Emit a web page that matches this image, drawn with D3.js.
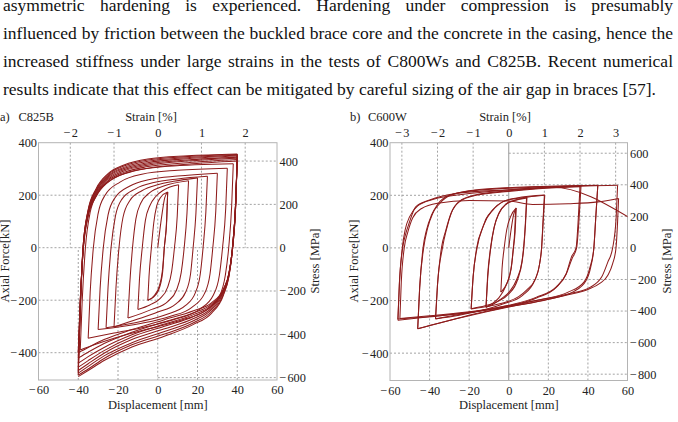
<!DOCTYPE html>
<html><head><meta charset="utf-8">
<script src="https://cdn.jsdelivr.net/npm/d3@7"></script>
<style>
html,body{margin:0;padding:0;background:#fff;overflow:hidden}
svg{display:block}
</style></head><body>
<svg id="chart" width="678" height="422"></svg>
<script>
// ---------------- DATA ----------------
const paragraphLines = [
  "asymmetric hardening is experienced. Hardening under compression is presumably",
  "influenced by friction between the buckled brace core and the concrete in the casing, hence the",
  "increased stiffness under large strains in the tests of C800Ws and C825B. Recent numerical",
  "results indicate that this effect can be mitigated by careful sizing of the air gap in braces [57]."
];

const dispTicks = [-60, -40, -20, 0, 20, 40, 60];
const forceTicks = [-400, -200, 0, 200, 400];
const c825bStrainTicks = [-2, -1, 0, 1, 2];
const c825bStressTicks = [-600, -400, -200, 0, 200, 400];
const c600wStrainTicks = [-3, -2, -1, 0, 1, 2, 3];
const c600wStressTicks = [-800, -600, -400, -200, 0, 200, 400, 600];

// [displacement mm, axial force kN]
const c825bCycles = [
  [[0,0],[2,120],[3.5,190],[5,212],[4.5,100],[3.3,0],[2.5,-90],[0.5,-160],[-2.5,-190],[-5,-200]],
  [[-5,-200],[-4.4,-110],[-3.2,0],[-2,95],[-0.5,160],[1.5,192],[5,212],[4.5,110],[3.3,0],[2.3,-90],[0.8,-145],[-1.5,-180],[-5,-200]],
  [[-10,-235],[-9.2,-120],[-7.8,0],[-6.2,105],[-4,160],[-1,195],[3,220],[10.5,240],[9.8,120],[8.4,0],[7,-90],[5,-150],[1,-195],[-4,-218],[-10,-235]],
  [[-15,-268],[-14.1,-140],[-12.7,0],[-11,110],[-8.5,170],[-4,210],[3,235],[15.5,255],[14.7,130],[13.3,0],[11.8,-95],[9.5,-160],[5,-205],[-3,-235],[-15,-268]],
  [[-22,-302],[-21,-150],[-19.5,0],[-17.5,115],[-14,180],[-8,217],[0,240],[8,253],[20,266],[19.2,130],[17.8,0],[16.5,-100],[14,-170],[9,-215],[0,-245],[-10,-272],[-22,-302]],
  [[-26,-305],[-25,-150],[-23.5,0],[-21.3,120],[-18,185],[-11,225],[-2,248],[10,262],[25,272],[24.2,135],[22.8,0],[21.4,-100],[19,-170],[14,-220],[4,-255],[-8,-280],[-26,-305]],
  [[-30,-312],[-29,-155],[-27.4,0],[-25,125],[-21.5,190],[-14,235],[-4,260],[10,273],[30,284],[29.2,140],[27.7,0],[26.3,-100],[23.5,-175],[17,-228],[6,-262],[-8,-288],[-30,-312]],
  [[-35,-345],[-34,-170],[-32.4,0],[-30,130],[-26.5,200],[-19,250],[-8,280],[10,295],[35,303],[34.2,150],[32.6,0],[31,-105],[28,-180],[21,-235],[9,-272],[-8,-305],[-22,-325],[-35,-345]],
  [[-39,-390],[-38,-200],[-36.4,0],[-34,135],[-30,210],[-23,260],[-12,292],[5,310],[38,320],[37.2,160],[35.7,0],[34,-105],[31,-185],[24,-240],[12,-275],[-5,-310],[-22,-345],[-32,-370],[-39,-390]],
  [[-40,-400],[-39,-200],[-37.4,0],[-35,120],[-31,195],[-25,250],[-17,282],[-5,303],[15,318],[40,330],[39.2,165],[37.6,0],[35.9,-95],[33.2,-155],[27,-210],[18,-240],[3,-275],[-13,-312],[-27,-350],[-35,-380],[-40,-400]],
  [[-40,-400],[-39,-200],[-37.4,0],[-35,123],[-31,200],[-25,255],[-17,287],[-5,309],[15,324],[40,336],[39.2,168],[37.6,0],[35.9,-97],[33.2,-158],[27,-215],[18,-248],[3,-283],[-13,-322],[-27,-365],[-35,-398],[-40,-420]],
  [[-40,-420],[-39,-210],[-37.5,0],[-35,127],[-31,204],[-25,260],[-17,292],[-5,314],[15,330],[40,341],[39.2,170],[37.6,0],[35.8,-98],[33,-160],[27,-220],[18,-255],[3,-292],[-13,-332],[-27,-380],[-35,-415],[-40,-440]],
  [[-40,-440],[-39,-220],[-37.5,0],[-35,131],[-31,208],[-25,265],[-17,297],[-5,319],[15,334],[40,345],[39.2,172],[37.6,0],[35.8,-100],[33,-163],[27,-224],[18,-262],[3,-300],[-13,-340],[-27,-392],[-35,-430],[-40,-455]],
  [[-40,-455],[-39,-228],[-37.5,0],[-35,135],[-31,213],[-25,270],[-17,302],[-5,324],[15,339],[40,349],[39.2,175],[37.6,0],[35.8,-102],[33,-167],[27,-230],[18,-270],[3,-310],[-13,-350],[-27,-402],[-35,-442],[-40,-468]],
  [[-40,-468],[-39,-234],[-37.6,0],[-35,139],[-31,217],[-25,274],[-17,306],[-5,329],[15,343],[40,352],[39.3,176],[37.7,0],[35.8,-105],[33,-172],[27,-236],[18,-278],[3,-320],[-13,-362],[-27,-412],[-35,-452],[-40,-478]],
  [[-40,-478],[-39,-240],[-37.6,0],[-35,142],[-31,221],[-25,278],[-17,311],[-5,334],[15,347],[40,355],[39.3,178],[37.7,0],[35.8,-108],[33,-178],[27,-243],[18,-286],[3,-330],[-13,-370],[-27,-422],[-35,-462],[-40,-485]],
  [[-40,-485],[-39,-243],[-37.6,0],[-35,145],[-31,225],[-25,282],[-17,315],[-5,338],[15,350],[40,357],[39.3,179],[37.7,0],[35.8,-110],[33,-182],[27,-250],[18,-292],[3,-338],[-13,-378],[-27,-430],[-35,-468],[-40,-491]]
];

const c600wCycles = [
  [[0,0],[1.2,70],[2.4,125],[3.5,148],[3,60],[2.3,0],[1.5,-60],[0,-115],[-2,-150],[-4,-168],[-3.4,-80],[-2.3,0],[-1,70],[1,120],[3.8,152]],
  [[3.8,152],[3.2,60],[2.4,0],[1.2,-80],[-1.5,-145],[-5,-190],[-8.5,-212],[-11.5,-225],[-10.7,-110],[-9.2,0],[-7.5,75],[-5,130],[-1.5,165],[3,180],[9,190],[8.4,95],[7.5,0],[6.6,-55],[4,-120],[0.5,-165],[-3.5,-192],[-7.5,-212],[-11.5,-226],[-10.6,-110],[-9.1,0],[-7.3,80],[-4.8,135],[-1.2,168],[3.2,182],[9.2,192]],
  [[9.2,192],[8.5,95],[7.6,0],[6.8,-50],[4.5,-120],[0,-175],[-6,-205],[-12,-220],[-19,-231],[-18,-110],[-16.2,0],[-13,80],[-11.5,110],[-8,144],[-3,175],[3.8,188],[10,194],[18,200],[17.3,100],[16.6,0],[15.6,-60],[13.5,-118],[9,-160],[5,-185],[-1.3,-206],[-9,-220],[-19,-232],[-18,-110],[-16,0],[-12.8,85],[-8,146],[-3,176],[4,190],[18.2,201]],
  [[18.2,201],[17.4,100],[16.6,0],[15.6,-60],[13,-125],[7,-180],[-3,-213],[-15,-240],[-25,-256],[-37,-270],[-36,-140],[-34,0],[-31.8,67],[-29.2,131],[-25,175],[-16.5,200],[0,215],[15,225],[36,233],[35.2,120],[34,0],[31.7,-34],[29,-98],[24,-148],[14,-187],[0,-218],[-18,-244],[-37,-269],[-36,-140],[-33.5,0],[-31.5,70],[-29,133],[-25,177],[-16.5,202],[0,217],[15,227],[36.5,235]],
  [[36.5,235],[35.6,120],[34.3,0],[32,-40],[29,-100],[24,-150],[14,-190],[0,-222],[-18,-252],[-32,-280],[-46,-307],[-45,-150],[-43.3,0],[-41.5,70],[-39,125],[-36,165],[-30,200],[-15,220],[10,230],[45,237],[44,120],[43,0],[41.5,-70],[39,-125],[33,-165],[20,-195],[0,-225],[-20,-258],[-35,-285],[-46,-307],[-45,-150],[-43,0],[-41,75],[-38.5,130],[-35,168],[-29,202],[-15,222],[10,232],[45,238]],
  [[45,238],[44,120],[43,0],[41,-75],[38,-130],[30,-168],[15,-198],[0,-222],[-20,-245],[-40,-262],[-56,-275],[-55.3,-140],[-53.6,0],[-52,55],[-50.4,93],[-47,156],[-40,182],[-26.7,207],[0,221],[24,232],[55,238],[54.3,120],[52.5,0],[50,-55],[47,-110],[41,-150],[30,-175],[10,-205],[-15,-238],[-40,-258],[-55,-268]],
  [[-55,-268],[-54.3,-130],[-52.8,0],[-51,60],[-48.5,115],[-44,150],[-36,170],[-20,180],[0,178],[12,165],[30,168],[45,175],[55.5,188],[55,100],[54.2,0],[52.5,-60],[50,-105],[46,-135],[40,-158],[30,-178],[10,-210],[-15,-240],[-35,-258],[-56,-270],[-55.2,-130],[-53.8,0],[-52.3,70],[-50,120],[-46,160],[-38,185],[-22,205],[0,220],[22,231],[61,115]]
];

// ---------------- DRAW ----------------
const svg = d3.select("#chart");
const SERIF = "'Liberation Serif','Times New Roman',Times,serif";
const RED = "#8e1c1c";
const GRID = "#8c8c8c";

// paragraph text (justified lines)
const tg = svg.append("g").style("font-family", SERIF).style("font-size", "17.5px").attr("fill", "#111");
paragraphLines.forEach((line, i) => {
  const words = line.split(" ");
  const y = 10.5 + i * 28;
  const left = 3, right = 673;
  const widths = words.map(w => {
    const t = tg.append("text").text(w);
    const wd = t.node().getComputedTextLength();
    t.remove();
    return wd;
  });
  const total = d3.sum(widths);
  const justify = i < paragraphLines.length - 1;
  let gap = justify ? (right - left - total) / (words.length - 1) : 17.5 * 0.25;
  if (gap < 2) gap = 2;
  let x = left;
  words.forEach((w, j) => {
    tg.append("text").attr("x", x).attr("y", y).text(w);
    x += widths[j] + gap;
  });
});

function minusFmt(v) {
  return v < 0 ? "\u2212\u200A" + Math.abs(v) : String(v);
}

function splitBranches(points) {
  const branches = [];
  let cur = [points[0]];
  let dir = 0;
  for (let i = 1; i < points.length; i++) {
    const dx = points[i][0] - points[i - 1][0];
    const s = Math.sign(dx);
    if (dir !== 0 && s !== 0 && s !== dir) {
      branches.push(cur);
      cur = [points[i - 1]];
    }
    if (s !== 0) dir = s;
    cur.push(points[i]);
  }
  branches.push(cur);
  return branches.map(b => b[0][0] > b[b.length - 1][0] ? b.slice().reverse() : b);
}

function drawPanel(p) {
  const x = d3.scaleLinear().domain([-60, 60]).range([p.x0, p.x1]);
  const y = d3.scaleLinear().domain([-504, 400]).range([p.y1, p.y0]);
  const xs = d3.scaleLinear().domain([-60 / p.gauge * 100, 60 / p.gauge * 100]).range([p.x0, p.x1]);
  const ys = d3.scaleLinear().domain([-504 * 1000 / p.area, 400 * 1000 / p.area]).range([p.y1, p.y0]);

  const g = svg.append("g");
  const grid = g.append("g").attr("stroke", GRID).attr("stroke-width", 0.8)
    .attr("stroke-dasharray", "2,2").attr("fill", "none");

  forceTicks.filter(v => v !== 0 && v !== 400).forEach(v => {
    grid.append("line").attr("x1", p.x0).attr("x2", x(0)).attr("y1", y(v)).attr("y2", y(v));
  });
  p.stressTicks.filter(v => v !== 0).forEach(v => {
    grid.append("line").attr("x1", x(0)).attr("x2", p.x1).attr("y1", ys(v)).attr("y2", ys(v));
  });
  dispTicks.filter(v => Math.abs(v) !== 60 && v !== 0).forEach(v => {
    grid.append("line").attr("x1", x(v)).attr("x2", x(v)).attr("y1", p.y1).attr("y2", y(0));
  });
  p.strainTicks.filter(v => v !== 0).forEach(v => {
    grid.append("line").attr("x1", xs(v)).attr("x2", xs(v)).attr("y1", p.y0).attr("y2", y(0));
  });
  grid.append("line").attr("x1", p.x0).attr("x2", p.x1).attr("y1", y(0)).attr("y2", y(0));
  const zx = g.append("line").attr("x1", x(0)).attr("x2", x(0)).attr("y1", p.y0).attr("y2", p.y1)
    .attr("stroke", p.solidZero ? "#9a9a9a" : GRID).attr("stroke-width", p.solidZero ? 1 : 0.8);
  if (!p.solidZero) zx.attr("stroke-dasharray", "2,2");

  g.append("rect").attr("x", p.x0).attr("y", p.y0).attr("width", p.x1 - p.x0).attr("height", p.y1 - p.y0)
    .attr("fill", "none").attr("stroke", "#b4b4b4").attr("stroke-width", 1);

  const clipId = "clip-" + p.id;
  svg.append("clipPath").attr("id", clipId).append("rect")
    .attr("x", p.x0).attr("y", p.y0).attr("width", p.x1 - p.x0).attr("height", p.y1 - p.y0);
  const line = d3.line().x(d => x(d[0])).y(d => y(d[1])).curve(d3.curveMonotoneX);
  const dg = g.append("g").attr("clip-path", `url(#${clipId})`).attr("fill", "none")
    .attr("stroke", RED).attr("stroke-width", 1.05).attr("stroke-linejoin", "round");
  p.cycles.forEach(c => {
    splitBranches(c).forEach(b => dg.append("path").attr("d", line(b)));
  });

  const styleAxis = a => {
    a.select(".domain").remove();
    a.attr("font-family", null).attr("font-size", null);
    a.selectAll("text").style("font-family", SERIF).style("font-size", "12.3px").attr("fill", "#222");
  };
  g.append("g").attr("transform", `translate(0,${p.y1})`)
    .call(d3.axisBottom(x).tickValues(dispTicks).tickSize(0).tickPadding(5.5).tickFormat(minusFmt)).call(styleAxis);
  g.append("g").attr("transform", `translate(${p.x0},0)`)
    .call(d3.axisLeft(y).tickValues(forceTicks).tickSize(0).tickPadding(1.5).tickFormat(minusFmt)).call(styleAxis);
  g.append("g").attr("transform", `translate(0,${p.y0})`)
    .call(d3.axisTop(xs).tickValues(p.strainTicks).tickSize(0).tickPadding(5.5).tickFormat(minusFmt)).call(styleAxis);
  g.append("g").attr("transform", `translate(${p.x1},0)`)
    .call(d3.axisRight(ys).tickValues(p.stressTicks).tickSize(0).tickPadding(2.5).tickFormat(minusFmt)).call(styleAxis);

  const t = g.append("g").style("font-family", SERIF).style("font-size", "12.5px").attr("fill", "#222");
  t.append("text").attr("x", p.labelX).attr("y", 121).text(p.label);
  t.append("text").attr("x", p.nameX).attr("y", 121).text(p.name);
  t.append("text").attr("x", p.strainX).attr("y", 121).attr("text-anchor", "middle").text("Strain [%]");
  t.append("text").attr("x", (p.x0 + p.x1) / 2).attr("y", 409).attr("text-anchor", "middle").text("Displacement [mm]");
  t.append("text").attr("transform", `translate(${p.forceLabelX},261) rotate(-90)`).attr("text-anchor", "middle").text("Axial Force[kN]");
  t.append("text").attr("transform", `translate(${p.stressLabelX},261) rotate(-90)`).attr("text-anchor", "middle").text("Stress [MPa]");
}

drawPanel({
  id: "a", x0: 38.5, x1: 277, y0: 142.7, y1: 380,
  gauge: 2200, area: 825, strainTicks: c825bStrainTicks, stressTicks: c825bStressTicks,
  cycles: c825bCycles, solidZero: false,
  label: "a)", labelX: 0, name: "C825B", nameX: 18.5, strainX: 151,
  forceLabelX: 8.5, stressLabelX: 319
});
drawPanel({
  id: "b", x0: 390, x1: 627.5, y0: 142.7, y1: 380.5,
  gauge: 1800, area: 600, strainTicks: c600wStrainTicks, stressTicks: c600wStressTicks,
  cycles: c600wCycles, solidZero: true,
  label: "b)", labelX: 350, name: "C600W", nameX: 368, strainX: 505,
  forceLabelX: 358, stressLabelX: 671
});
</script>
</body></html>
